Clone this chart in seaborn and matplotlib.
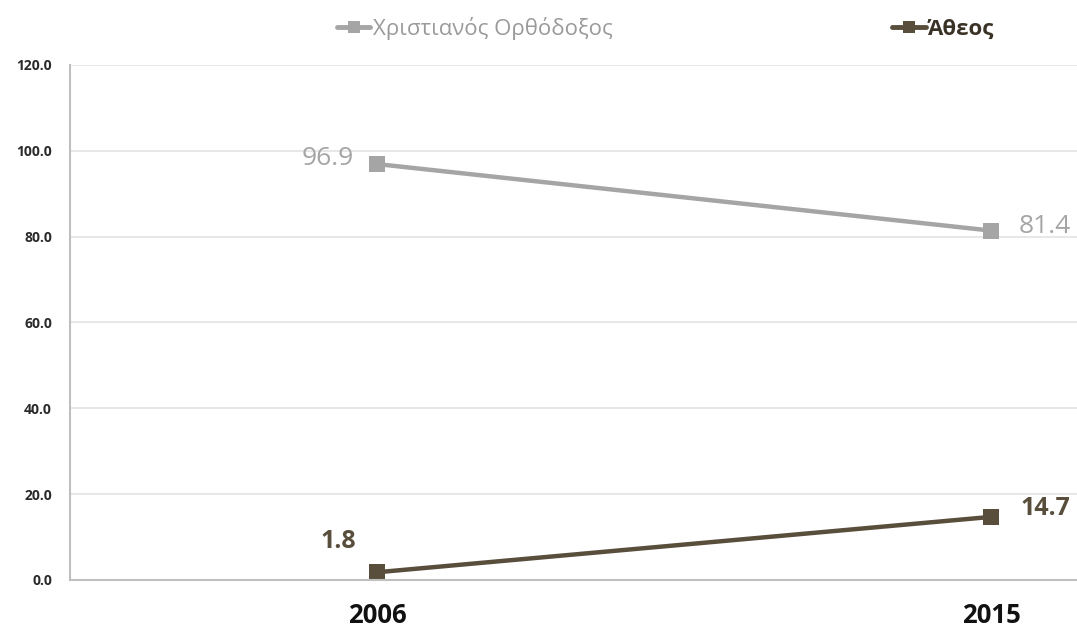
import pandas as pd
import matplotlib.pyplot as plt
import seaborn as sns

# ── Data ─────────────────────────────────────────────────────────────────────
years = ["2006", "2015"]
orthodox = [96.9, 81.4]
atheist = [1.8, 14.7]
series_names = ["Χριστιανός Ορθόδοξος", "Άθεος"]

GREY = "#A5A5A5"
BROWN = "#584E3B"

df = pd.DataFrame({
    "Year": years * 2,
    "Value": orthodox + atheist,
    "Series": [series_names[0]] * 2 + [series_names[1]] * 2,
})

sns.set_theme(style="white")
plt.rcParams["font.family"] = ["Open Sans", "DejaVu Sans"]

fig = plt.figure(figsize=(10.77, 6.32), dpi=100)
ax = fig.add_axes([0.065, 0.0823, 0.935, 0.815])

sns.lineplot(data=df, x="Year", y="Value", hue="Series",
             palette={series_names[0]: GREY, series_names[1]: BROWN},
             marker="s", markersize=11, markeredgewidth=0, linewidth=3.2,
             ax=ax, legend=False, sort=False)

ax.set_xlim(-0.5, 1.14)
ax.set_ylim(0, 120)
ax.set_yticks(range(0, 121, 20))
ax.set_yticklabels([f"{v:.1f}" for v in range(0, 121, 20)],
                   fontsize=10, fontweight="bold", color="#2A2A2A")
ax.set_xticks([0, 1])
ax.set_xticklabels(years, fontsize=18.5, fontweight="bold", color="#111111")
ax.tick_params(axis="x", length=0, pad=16)
ax.tick_params(axis="y", length=0, pad=13)
ax.set_xlabel("")
ax.set_ylabel("")
ax.yaxis.grid(True, color="#E3E3E3", linewidth=1.2)
ax.set_axisbelow(True)
for s in ["top", "right"]:
    ax.spines[s].set_visible(False)
for s in ["left", "bottom"]:
    ax.spines[s].set_color("#BFBFBF")
    ax.spines[s].set_linewidth(1.5)

# value labels
ax.annotate(f"{orthodox[0]:.1f}", (0, orthodox[0]), xytext=(-17, 4), textcoords="offset points",
            ha="right", va="center", fontsize=19, color=GREY)
ax.annotate(f"{orthodox[1]:.1f}", (1, orthodox[1]), xytext=(20, 3), textcoords="offset points",
            ha="left", va="center", fontsize=19, color=GREY)
ax.annotate(f"{atheist[0]:.1f}", (0, atheist[0]), xytext=(-28, 22), textcoords="offset points",
            ha="center", va="center", fontsize=18, color=BROWN, fontweight="bold")
ax.annotate(f"{atheist[1]:.1f}", (1, atheist[1]), xytext=(21, 6), textcoords="offset points",
            ha="left", va="center", fontsize=18, color=BROWN, fontweight="bold")

# legend
h1, = ax.plot([], [], color=GREY, marker="s", markersize=8, linewidth=3.5, markeredgewidth=0)
h2, = ax.plot([], [], color=BROWN, marker="s", markersize=8, linewidth=3.5, markeredgewidth=0)
leg = fig.legend([h1, h2], series_names, loc="center", bbox_to_anchor=(0.618, 0.955),
                 ncol=2, frameon=False, fontsize=16, handlelength=1.5,
                 handletextpad=0.1, columnspacing=12.6)
texts = leg.get_texts()
texts[0].set_color("#9A9A9A")
texts[1].set_color("#3A3226")
texts[1].set_fontweight("bold")

plt.savefig("out.png", dpi=100)
